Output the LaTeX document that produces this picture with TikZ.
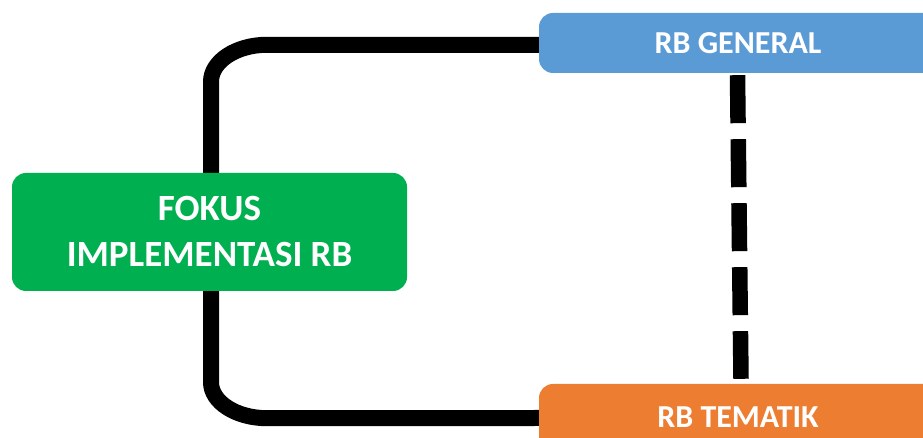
\documentclass[tikz,border=0pt]{standalone}
\usepackage{fontspec}
\setmainfont{Carlito}
\definecolor{cgreen}{HTML}{00B050}
\definecolor{cblue}{HTML}{5B9BD5}
\definecolor{corange}{HTML}{ED7D31}
\pgfdeclarelayer{background}
\pgfsetlayers{background,main}
\begin{document}
\begin{tikzpicture}[x=1pt,y=1pt,
  box/.style={rounded corners=14pt, inner sep=0pt, text=white, align=center},
  conn/.style={line width=16pt, black},
  dashline/.style={line width=15.5pt, black, dash pattern=on 48pt off 16pt}]
\useasboundingbox (0,0) rectangle (923,438);
\clip (0,0) rectangle (923,438);
\node[box, fill=cgreen, minimum width=395pt, minimum height=118pt,
      font=\bfseries\fontsize{37}{46}\selectfont] (fokus) at (209.5,206) {FOKUS\\IMPLEMENTASI RB};
\node[box, fill=cblue, minimum width=398pt, minimum height=60pt,
      font=\bfseries\fontsize{32}{36}\selectfont] (gen) at (738,395) {RB GENERAL};
\node[box, fill=corange, minimum width=398pt, minimum height=66pt,
      font=\bfseries\fontsize{32}{36}\selectfont] (tem) at (738,21) {RB TEMATIK};
\begin{pgfonlayer}{background}
\draw[conn] ([xshift=1.5pt]fokus.north) -- ++(0,91)
  arc[start angle=180, end angle=90, x radius=56, y radius=37]
  -- ([yshift=-2pt]gen.west);
\draw[conn] ([xshift=1.5pt]fokus.south) -- ++(0,-91)
  arc[start angle=180, end angle=270, x radius=56, y radius=36]
  -- ([yshift=-1pt]tem.west);
\draw[dashline] ([shift={(-0.5,-2)}]gen.south) -- ([shift={(3,5)}]tem.north);
\end{pgfonlayer}
\end{tikzpicture}
\end{document}
